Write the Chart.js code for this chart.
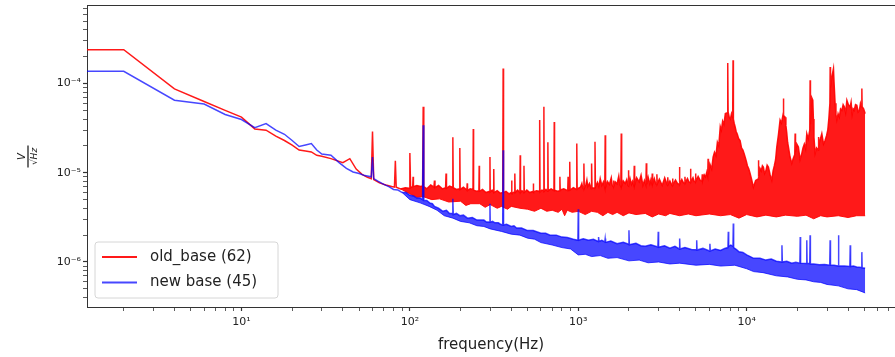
<!DOCTYPE html>
<html>
<head>
<meta charset="utf-8">
<script src="https://cdn.jsdelivr.net/npm/chart.js@4.4.1/dist/chart.umd.min.js"></script>
<style>
  html, body { margin: 0; padding: 0; background: #fff; }
  #wrap { width: 895px; height: 357px; }
</style>
</head>
<body>
<div id="wrap"><canvas id="psd" width="895" height="357"></canvas></div>
<script>
// values in µV/√Hz
// old_base (62): upper edge of the trace incl. peaks
const oldFreq = [
  1.2, 2, 4, 6, 8, 10, 12, 14, 16, 18, 20, 22, 24, 26, 28, 30, 34, 40, 44, 48, 52, 56,
  59, 60, 61, 66, 72, 78, 81, 82, 83, 88, 94, 99, 100, 101, 104, 104.5, 105, 110, 116, 119, 120, 121,
  126, 133, 139, 140, 141, 148, 156, 163, 164, 165, 172, 179, 180, 181, 189, 197, 198, 199, 208, 218, 219, 220, 228, 237, 238, 239, 248, 257, 258, 259, 270, 283, 298, 299, 300,
  308, 314, 315, 316, 330, 345, 356, 358, 360, 372, 388, 400, 402, 404, 418, 420, 422, 436, 450, 452, 454, 463, 474, 476, 478, 495, 515, 539, 541, 543, 565, 587, 590, 593, 608, 622, 625, 628, 643, 657, 660, 663, 690, 717, 720, 723, 750, 775, 778, 781, 820, 866, 870, 874, 886, 890, 894, 935, 975, 980, 985,
  1030, 1050, 1062, 1074, 1080, 1086, 1110, 1125, 1140, 1165,
  1193, 1200, 1207, 1250, 1257, 1264, 1300, 1325, 1350, 1380,
  1410, 1437, 1445, 1453, 1490, 1530, 1570, 1590, 1611, 1620,
  1629, 1660, 1700, 1740, 1765, 1790, 1800, 1810, 1850, 1900,
  1940, 1974, 1985, 1996, 2030, 2070, 2100, 2138, 2150, 2162,
  2220, 2300, 2360, 2420, 2470, 2520, 2535, 2550, 2600, 2660,
  2700, 2735, 2750, 2765, 2830, 2880, 2915, 2930, 2945, 3030,
  3150, 3260, 3380, 3400, 3420, 3500, 3610, 3630, 3650, 3780,
  3880, 3970, 3990, 4010, 4120, 4200, 4280, 4300, 4320, 4450,
  4540, 4615, 4640, 4665, 4800, 4880, 4945, 4970, 4995, 5150,
  5300, 5420, 5450, 5480, 5600, 5700, 5800, 5870, 5900, 5930,
  6050, 6200, 6320, 6440, 6570, 6700, 6830, 6970, 7080, 7200,
  7330, 7470, 7680, 7720, 7760, 7880, 8000, 8130, 8260, 8300,
  8340, 8430, 8530, 8660, 8800, 8970, 9140, 9320, 9500, 9650,
  9790, 9950, 10100, 10300, 10480, 10700, 10960, 11300, 11680, 11740,
  11800, 12000, 12200, 12400, 12570, 12780, 13000, 13230, 13460, 13780,
  14100, 14350, 14600, 14850, 15100, 15450, 15790, 16100, 16450, 16520,
  16600, 16910, 17100, 17300, 17500, 17700, 18100, 18530, 18900, 19300,
  19400, 19500, 19850, 20290, 20750, 21240, 21600, 22000, 22400, 22750,
  23200, 23700, 23810, 23920, 24300, 24700, 24900, 25100, 25490, 26000,
  26600, 26690, 26800, 27400, 27940, 28600, 29240, 29800, 30300, 30750,
  31200, 31320, 31450, 32100, 32770, 33100, 33500, 33900, 34310, 34900,
  35500, 36100, 36750, 37400, 38000, 38700, 39360, 40200, 41180, 41700,
  42300, 42900, 43490, 44300, 45110, 45900, 46700, 47400, 48100, 48310,
  48500, 49500, 50540
];
const oldTop = [
  240, 240, 87, 63, 50, 42, 31, 30, 25.7, 23, 20.4, 18, 17.5, 17.1, 15.7, 15.3, 14.4, 13, 14.4, 11, 9.6, 8.9,
  8.6, 29, 8.4, 7.7, 7.3, 7.0, 6.9, 13.6, 6.9, 6.6, 6.8, 6.7, 16.7, 6.8, 7.0, 9.0, 7.0, 7.2, 7.0, 7.1, 55, 7.0,
  6.6, 7.3, 6.9, 8.2, 6.8, 7.2, 6.6, 6.8, 9.8, 6.7, 7.1, 6.9, 25, 6.8, 6.5, 6.6, 19, 6.5, 6.9, 6.4, 7.6, 6.3, 6.6, 6.5, 31, 6.4, 6.2, 6.3, 12, 6.2, 6.5, 6.0, 6.2, 15, 6.1,
  6.4, 6.1, 11, 6.0, 6.3, 5.9, 6.0, 147, 6.0, 6.2, 5.8, 6.0, 8.2, 5.9, 6.1, 9.8, 6.0, 6.4, 6.0, 15.7, 6.0, 6.3, 6.1, 12, 6.0, 6.4, 6.0, 6.2, 7.6, 6.1, 6.3, 6.2, 39, 6.1, 6.4, 6.3, 55, 6.2, 6.5, 6.2, 22, 6.3, 6.6, 6.3, 37, 6.4, 6.2, 6.3, 9, 6.4, 6.6, 6.3, 9, 6.4, 6.5, 13.3, 6.4, 6.8, 6.5, 21.3, 6.6,
  6.9, 7.6, 6.8, 6.6, 12.7, 6.7, 7.4, 8.3, 7.0, 7.6,
  6.6, 12.7, 6.7, 6.8, 22.2, 6.9, 7.8, 7.0, 8.6, 7.2,
  7.9, 6.8, 26.3, 6.9, 8.0, 7.4, 8.8, 7.3, 7.0, 8.2,
  7.1, 7.9, 7.5, 9.2, 7.4, 7.0, 27.5, 7.1, 8.1, 7.6,
  8.4, 7.2, 10.7, 7.1, 8.6, 7.4, 8.0, 7.2, 12, 7.3,
  8.8, 7.9, 9.4, 7.2, 8.2, 7.3, 12.8, 7.4, 8.9, 7.5,
  8.4, 7.6, 9.8, 7.5, 8.6, 7.6, 7.4, 9.6, 7.5, 8.5,
  7.2, 8.8, 7.3, 8.9, 7.4, 8.1, 7.2, 8.6, 7.3, 8.3,
  7.6, 7.4, 11.6, 7.5, 8.4, 7.8, 7.6, 9.0, 7.7, 8.6,
  7.9, 7.8, 11.1, 7.9, 8.8, 8.0, 8.0, 9.8, 8.0, 9.1,
  8.2, 8.1, 9.6, 8.2, 9.5, 9.0, 10.2, 9.2, 14.4, 9.5,
  12.5, 11, 15, 17, 15.5, 22, 20, 33, 30, 38,
  35, 46, 47, 170, 48, 42, 40, 46, 42, 182,
  40, 36, 33, 29, 27, 24, 23, 19, 18, 16.5,
  15, 13.5, 12, 11, 9.8, 8.4, 6.9, 8.2, 8.5, 13.8,
  9.0, 11.2, 10.5, 12, 11.6, 9.8, 10.5, 12.2, 11.6, 9.5,
  8.2, 10.5, 12, 14, 19.5, 27, 39, 36, 45, 68,
  44, 42, 34, 28, 22, 19.5, 15, 12.7, 14.5, 16,
  27.5, 17, 21, 19.5, 14, 16.4, 19, 21, 18.5, 27.5,
  24, 30, 109, 35, 70, 65, 40, 25, 16.4, 19,
  18, 25.2, 20, 24, 27.5, 21, 23.1, 26, 30, 40,
  60, 153, 90, 120, 147, 95, 60, 45, 39, 46,
  42, 52, 50, 58, 55, 47, 65, 58, 55, 62,
  45, 52, 50, 58, 57, 48, 50, 60, 55, 88,
  55, 52, 46
];
// old_base: lower edge of the noise band
const oldFloorFreq = [
  88, 100, 110, 120, 135, 150, 170, 200, 215, 230,
  260, 280, 300, 330, 350, 380, 400, 450, 500, 550,
  600, 650, 700, 760, 800, 830, 860, 920, 1000, 1100,
  1200, 1300, 1400, 1500, 1600, 1700, 1850, 2000, 2200, 2500,
  2750, 3000, 3300, 3500, 4000, 4500, 5000, 6000, 7000, 8000,
  9000, 10000, 11500, 13000, 15000, 17000, 20000, 22500, 25000, 27500,
  30000, 35000, 40000, 45000, 50540
];
const oldFloor = [
  6.6, 5.8, 5.3, 5.4, 5.0, 5.1, 4.7, 4.8, 4.3, 4.5,
  4.5, 4.1, 4.4, 4.0, 4.2, 3.9, 4.2, 4.0, 3.9, 3.7,
  4.0, 3.7, 3.8, 3.6, 3.9, 3.3, 3.8, 3.6, 3.7, 3.4,
  3.7, 3.6, 3.3, 3.6, 3.4, 3.6, 3.3, 3.55, 3.4, 3.5,
  3.2, 3.45, 3.3, 3.5, 3.3, 3.45, 3.3, 3.45, 3.3, 3.4,
  3.1, 3.4, 3.2, 3.35, 3.2, 3.35, 3.25, 3.35, 3.05, 3.3,
  3.2, 3.3, 3.15, 3.3, 3.3
];

// new base (45): upper edge incl. peaks
const newFreq = [
  1.2, 2, 4, 6, 8, 10, 12, 14, 16, 18, 20, 22, 24, 26, 28, 30, 34, 38, 42, 46, 50, 54,
  59, 60, 61, 65, 70, 75, 80, 85, 90, 95,
  100, 105, 110, 115, 119, 120, 121, 126, 131, 136,
  140, 148, 157, 165, 172, 179, 180, 181, 189, 198,
  208, 220, 235, 250, 260, 275, 285, 298, 299, 300,
  310, 320, 335, 345, 356, 358, 360, 375, 400, 415,
  430, 460, 500, 540, 600, 640, 680, 740, 800, 860,
  935, 995, 1000, 1005, 1070, 1150, 1230, 1312, 1320, 1328,
  1380, 1437, 1445, 1453, 1560, 1700, 1850, 1990, 2000, 2010,
  2200, 2350, 2500, 2700, 2970, 2985, 3000, 3250, 3500, 3750,
  3980, 4000, 4020, 4300, 4700, 5025, 5050, 5075, 5500, 6020,
  6050, 6080, 6500, 7000, 7400, 7740, 7780, 7820, 8050, 8290,
  8330, 8370, 8700, 9000, 9500, 10000, 10500, 11000, 12000, 13000,
  14000, 15000, 16120, 16200, 16280, 17300, 18500, 19600, 20700, 20800,
  20900, 22650, 22750, 22850, 23700, 23800, 23900, 25000, 27000, 29000,
  31150, 31300, 31450, 33000, 34950, 35100, 35250, 38000, 41000, 41200,
  41400, 43000, 45000, 48100, 48300, 48500, 50540
];
const newTop = [
  137, 137, 65, 59, 45, 39.5, 32, 35.6, 30, 27, 23, 19.7, 20.5, 21.3, 18, 16.2, 15.7, 13, 11.2, 10.2, 9.8, 9.3,
  9.0, 15, 8.6, 8.0, 7.4, 7.0, 6.5, 6.4, 6.0, 6.0,
  5.6, 5.5, 5.2, 5.2, 5.0, 34, 4.9, 4.9, 4.6, 4.5,
  4.2, 4.0, 3.7, 3.8, 3.5, 3.5, 5.1, 3.4, 3.5, 3.3,
  3.35, 3.1, 3.15, 2.95, 2.95, 2.95, 2.8, 2.8, 4.5, 2.8,
  2.85, 2.75, 2.75, 2.65, 2.6, 17.9, 2.6, 2.65, 2.5, 2.55,
  2.4, 2.4, 2.25, 2.25, 2.1, 2.1, 2.0, 2.0, 1.9, 1.88,
  1.8, 1.75, 3.9, 1.75, 1.82, 1.75, 1.8, 1.7, 1.9, 1.7,
  1.75, 1.68, 1.83, 1.66, 1.72, 1.6, 1.66, 1.58, 2.27, 1.56,
  1.62, 1.52, 1.5, 1.56, 1.47, 2.18, 1.46, 1.52, 1.43, 1.5,
  1.4, 1.83, 1.4, 1.45, 1.38, 1.37, 1.75, 1.36, 1.42, 1.33,
  1.6, 1.33, 1.4, 1.35, 1.42, 1.45, 2.18, 1.5, 1.55, 1.5,
  2.7, 1.45, 1.38, 1.3, 1.28, 1.2, 1.15, 1.1, 1.1, 1.05,
  1.08, 1.02, 1.0, 1.54, 1.0, 1.02, 0.97, 0.99, 0.97, 1.9,
  0.97, 0.96, 1.75, 0.96, 0.96, 2.0, 0.95, 0.95, 0.93, 0.94,
  0.92, 1.75, 0.92, 0.92, 0.9, 2.0, 0.9, 0.9, 0.89, 1.54,
  0.89, 0.9, 0.88, 0.87, 1.29, 0.86, 0.85
];
// new base: lower edge of the noise band
const newFloorFreq = [
  90, 100, 115, 130, 145, 160, 180, 200, 225, 250,
  275, 300, 350, 400, 450, 500, 550, 600, 700, 800,
  900, 1000, 1100, 1200, 1350, 1500, 1700, 2000, 2300, 2600,
  3000, 3500, 4000, 5000, 6000, 7000, 8500, 10000, 11000, 12500,
  15000, 17500, 20000, 22500, 25000, 27500, 30000, 35000, 40000, 45000,
  50540
];
const newFloor = [
  6.0, 5.0, 4.6, 4.2, 3.8, 3.3, 3.1, 2.85, 2.75, 2.55,
  2.5, 2.35, 2.2, 2.05, 2.0, 1.85, 1.8, 1.65, 1.55, 1.45,
  1.4, 1.2, 1.22, 1.15, 1.18, 1.1, 1.12, 1.03, 1.05, 0.98,
  1.0, 0.95, 0.97, 0.92, 0.94, 0.9, 0.92, 0.84, 0.78, 0.76,
  0.7, 0.68, 0.64, 0.63, 0.6, 0.59, 0.56, 0.54, 0.5, 0.49,
  0.45
];

const xMajor = [10, 100, 1000, 10000];
const xMajorLabels = ['10\u00B9', '10\u00B2', '10\u00B3', '10\u2074'];
const yMajor = [1e-6, 1e-5, 1e-4];
const yMajorLabels = ['10\u207B\u2076', '10\u207B\u2075', '10\u207B\u2074'];

const RED = 'rgba(255, 0, 0, 0.9)';
const BLUE = 'rgba(0, 0, 255, 0.72)';
const FONT = 'DejaVu Sans';

const toPoints = (fs, vs) => fs.map((f, i) => ({x: f, y: vs[i] * 1e-6}));

// matplotlib style log ticks: 1..9 per decade, labels only on the decades
function logTicks(axis) {
  const ticks = [];
  for (let e = Math.floor(Math.log10(axis.min)); e <= Math.ceil(Math.log10(axis.max)); e++) {
    for (let k = 1; k <= 9; k++) {
      const v = k * Math.pow(10, e);
      if (v >= axis.min && v <= axis.max) ticks.push({value: v, major: k === 1});
    }
  }
  axis.ticks = ticks;
}
function labelFor(majors, labels) {
  return function(value) {
    const i = majors.findIndex(m => Math.abs(Math.log10(value / m)) < 1e-6);
    return i >= 0 ? labels[i] : '';
  };
}

const topSpine = {
  id: 'topSpine',
  afterDraw(chart) {
    const {ctx, chartArea} = chart;
    ctx.save();
    ctx.strokeStyle = '#333';
    ctx.lineWidth = 1;
    ctx.beginPath();
    ctx.moveTo(chartArea.left, chartArea.top - 0.5);
    ctx.lineTo(chartArea.right, chartArea.top - 0.5);
    ctx.stroke();
    ctx.restore();
  }
};

// y label drawn as a fraction V / √Hz, rotated
const yFraction = {
  id: 'yFraction',
  afterDraw(chart) {
    const ctx = chart.ctx;
    const cy = (chart.chartArea.top + chart.chartArea.bottom) / 2;
    ctx.save();
    ctx.translate(28, cy);
    ctx.rotate(-Math.PI / 2);
    ctx.fillStyle = '#222';
    ctx.strokeStyle = '#222';
    ctx.textAlign = 'center';
    ctx.textBaseline = 'middle';
    ctx.font = 'italic 10px ' + FONT;
    ctx.fillText('V', 0, -6);
    ctx.lineWidth = 1.3;
    ctx.beginPath();
    ctx.moveTo(-11, 0);
    ctx.lineTo(11, 0);
    ctx.stroke();
    ctx.font = 'italic 9px ' + FONT;
    ctx.fillText('\u221AHz', 0, 6.5);
    ctx.restore();
  }
};

// legend box in the lower left corner of the axes
const innerLegend = {
  id: 'innerLegend',
  afterDraw(chart) {
    const {ctx, chartArea} = chart;
    const items = chart.data.datasets.filter(d => !d.label.startsWith('_')).reverse();
    const w = 183, h = 56, r = 3;
    const x = chartArea.left + 8, y = chartArea.bottom - 9 - h;
    ctx.save();
    ctx.beginPath();
    ctx.moveTo(x + r, y);
    ctx.lineTo(x + w - r, y);
    ctx.quadraticCurveTo(x + w, y, x + w, y + r);
    ctx.lineTo(x + w, y + h - r);
    ctx.quadraticCurveTo(x + w, y + h, x + w - r, y + h);
    ctx.lineTo(x + r, y + h);
    ctx.quadraticCurveTo(x, y + h, x, y + h - r);
    ctx.lineTo(x, y + r);
    ctx.quadraticCurveTo(x, y, x + r, y);
    ctx.closePath();
    ctx.fillStyle = 'rgba(255,255,255,0.8)';
    ctx.fill();
    ctx.strokeStyle = '#d6d6d6';
    ctx.lineWidth = 1;
    ctx.stroke();
    ctx.font = '15px ' + FONT;
    ctx.textBaseline = 'middle';
    items.forEach((d, i) => {
      const ly = y + 15 + i * 25.5;
      ctx.strokeStyle = d.borderColor;
      ctx.lineWidth = 2;
      ctx.beginPath();
      ctx.moveTo(x + 7, ly);
      ctx.lineTo(x + 42, ly);
      ctx.stroke();
      ctx.fillStyle = '#222';
      ctx.fillText(d.label, x + 55, ly);
    });
    ctx.restore();
  }
};

const axisGrid = {
  drawOnChartArea: false,
  drawTicks: true,
  tickLength: 4,
  tickColor: '#333',
  tickWidth: ctx => (ctx.tick && ctx.tick.major ? 1.2 : 0.8)
};

new Chart(document.getElementById('psd'), {
  type: 'line',
  data: {
    datasets: [
      {label: 'new base (45)', data: toPoints(newFreq, newTop), borderColor: BLUE, backgroundColor: BLUE, fill: '+1', borderWidth: 1.5},
      {label: '_newFloor', data: toPoints(newFloorFreq, newFloor), borderColor: BLUE, borderWidth: 1, fill: false},
      {label: 'old_base (62)', data: toPoints(oldFreq, oldTop), borderColor: RED, backgroundColor: RED, fill: '+1', borderWidth: 1.5},
      {label: '_oldFloor', data: toPoints(oldFloorFreq, oldFloor), borderColor: RED, borderWidth: 1, fill: false}
    ]
  },
  options: {
    responsive: false,
    animation: false,
    events: [],
    layout: {padding: {top: 6, right: 0, bottom: 0, left: 0}},
    elements: {point: {radius: 0}, line: {tension: 0}},
    scales: {
      x: {
        type: 'logarithmic',
        min: 1.21,
        max: 76000,
        afterBuildTicks: logTicks,
        afterFit: axis => { axis.height = 50; axis.paddingLeft = 0; axis.paddingRight = 0; },
        grid: axisGrid,
        border: {display: true, color: '#333', width: 1},
        ticks: {autoSkip: false, maxRotation: 0, padding: 5, color: '#222', font: {family: FONT, size: 11}, callback: labelFor(xMajor, xMajorLabels)},
        title: {display: true, text: 'frequency(Hz)', color: '#222', font: {family: FONT, size: 15}, padding: {top: 0, bottom: 3}}
      },
      y: {
        type: 'logarithmic',
        min: 3.13e-7,
        max: 7.4e-4,
        afterBuildTicks: logTicks,
        afterFit: axis => { axis.width = 87; axis.paddingTop = 0; axis.paddingBottom = 0; },
        grid: axisGrid,
        border: {display: true, color: '#333', width: 1},
        ticks: {autoSkip: false, padding: 2, color: '#222', font: {family: FONT, size: 11}, callback: labelFor(yMajor, yMajorLabels)}
      }
    },
    plugins: {
      legend: {display: false},
      tooltip: {enabled: false}
    }
  },
  plugins: [topSpine, yFraction, innerLegend]
});
</script>
</body>
</html>
